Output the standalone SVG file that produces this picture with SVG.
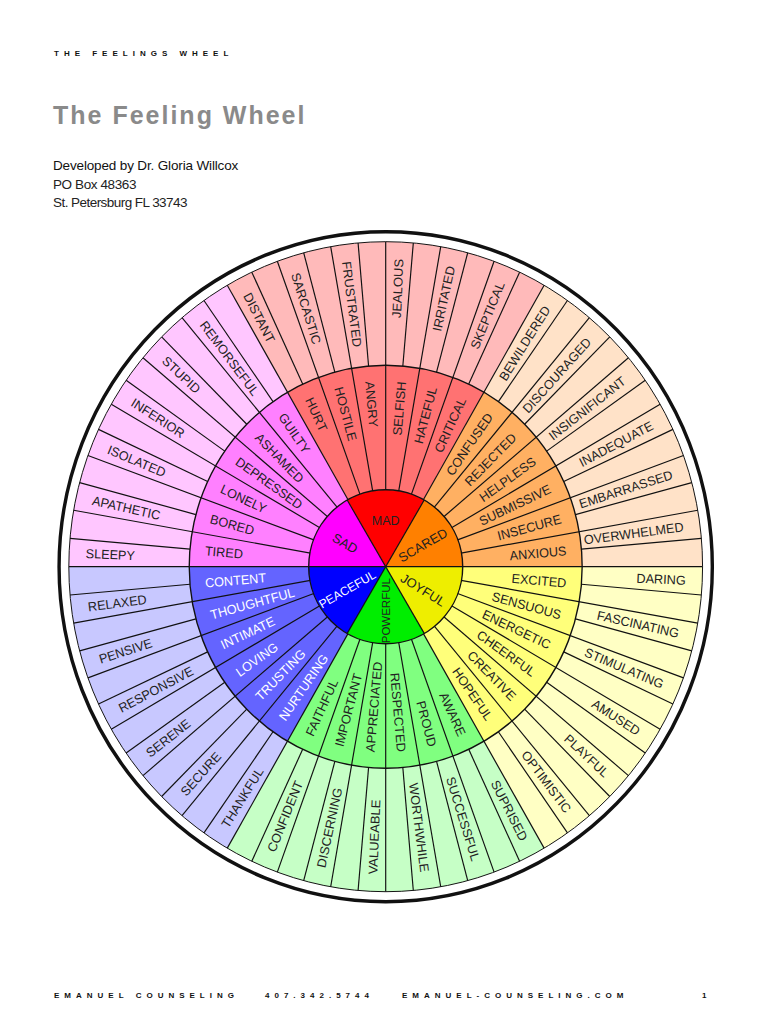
<svg xmlns="http://www.w3.org/2000/svg" xmlns:xlink="http://www.w3.org/1999/xlink" width="770" height="1024" viewBox="0 0 770 1024">
<style>
text{font-family:"Liberation Sans",Arial,sans-serif}
.hd{font-size:8px;font-weight:bold;letter-spacing:5px;fill:#111}
.lb{font-size:13px;fill:#222}
.w{fill:#fff}
.r{text-anchor:end}
.c{font-size:12.5px;fill:#222;text-anchor:middle}
.ln{stroke:#111;stroke-width:1.2;fill:none}
</style>
<defs>
<line id="a" x1="77" y1="0" x2="325" y2="0"/>
<line id="b" x1="201.5" y1="0" x2="325" y2="0"/>
</defs>
<rect width="770" height="1024" fill="#fff"/>
<text class="hd" x="54" y="56">THE FEELINGS WHEEL</text>
<text x="53" y="124" style="font-size:25px;font-weight:bold;fill:#8a8a8a;letter-spacing:2px">The Feeling Wheel</text>
<text x="53" y="170" style="font-size:13.5px;fill:#111;letter-spacing:-0.15px">Developed by Dr. Gloria Willcox</text>
<text x="53" y="188.5" style="font-size:13.5px;fill:#222;letter-spacing:-0.4px">PO Box 48363</text>
<text x="53" y="207" style="font-size:13.5px;fill:#222;letter-spacing:-0.55px">St. Petersburg FL 33743</text>

<g id="wheel" transform="translate(385.7 566.7)">
<g transform="scale(0.975 1)">
<circle r="335" fill="none" stroke="#111" stroke-width="3.5"/>
<g id="mad">
<path d="M0 0L-162.5 -281.46A325 325 0 0 1 162.5 -281.46Z" fill="#FFBABA"/>
<path d="M0 0L-100.75 -174.5A201.5 201.5 0 0 1 100.75 -174.5Z" fill="#FF7272"/>
<g class="lb" dy="4.7">
<text transform="rotate(62.5)" x="-308" dy="4.7">DISTANT</text>
<text transform="rotate(72.5)" x="-308" dy="4.7">SARCASTIC</text>
<text transform="rotate(82.5)" x="-308" dy="4.7">FRUSTRATED</text>
<text class="r" transform="rotate(-87.5)" x="308" dy="4.7">JEALOUS</text>
<text class="r" transform="rotate(-77.5)" x="308" dy="4.7">IRRITATED</text>
<text class="r" transform="rotate(-67.5)" x="308" dy="4.7">SKEPTICAL</text>
<text transform="rotate(65)" x="-186" dy="4.7">HURT</text>
<text transform="rotate(75)" x="-186" dy="4.7">HOSTILE</text>
<text transform="rotate(85)" x="-186" dy="4.7">ANGRY</text>
<text class="r" transform="rotate(-85)" x="186" dy="4.7">SELFISH</text>
<text class="r" transform="rotate(-75)" x="186" dy="4.7">HATEFUL</text>
<text class="r" transform="rotate(-65)" x="186" dy="4.7">CRITICAL</text>
</g>
</g>
<g id="scared">
<path d="M0 0L162.5 -281.46A325 325 0 0 1 325 0Z" fill="#FFE2C8"/>
<path d="M0 0L100.75 -174.5A201.5 201.5 0 0 1 201.5 0Z" fill="#FFB062"/>
<g class="lb">
<text class="r" transform="rotate(-57.5)" x="308" dy="4.7">BEWILDERED</text>
<text class="r" transform="rotate(-47.5)" x="308" dy="4.7">DISCOURAGED</text>
<text class="r" transform="rotate(-37.5)" x="308" dy="4.7">INSIGNIFICANT</text>
<text class="r" transform="rotate(-27.5)" x="308" dy="4.7">INADEQUATE</text>
<text class="r" transform="rotate(-17.5)" x="308" dy="4.7">EMBARRASSED</text>
<text class="r" transform="rotate(-7.5)" x="308" dy="4.7">OVERWHELMED</text>
<text class="r" transform="rotate(-55)" x="186" dy="4.7">CONFUSED</text>
<text class="r" transform="rotate(-45)" x="186" dy="4.7">REJECTED</text>
<text class="r" transform="rotate(-35)" x="186" dy="4.7">HELPLESS</text>
<text class="r" transform="rotate(-25)" x="186" dy="4.7">SUBMISSIVE</text>
<text class="r" transform="rotate(-15)" x="186" dy="4.7">INSECURE</text>
<text class="r" transform="rotate(-5)" x="186" dy="4.7">ANXIOUS</text>
</g>
</g>
<g id="joyful">
<path d="M0 0L325 0A325 325 0 0 1 162.5 281.46Z" fill="#FFFFC4"/>
<path d="M0 0L201.5 0A201.5 201.5 0 0 1 100.75 174.5Z" fill="#FFFF7A"/>
<g class="lb">
<text class="r" transform="rotate(2.5)" x="308" dy="4.7">DARING</text>
<text class="r" transform="rotate(12.5)" x="308" dy="4.7">FASCINATING</text>
<text class="r" transform="rotate(22.5)" x="308" dy="4.7">STIMULATING</text>
<text class="r" transform="rotate(32.5)" x="308" dy="4.7">AMUSED</text>
<text class="r" transform="rotate(42.5)" x="308" dy="4.7">PLAYFUL</text>
<text class="r" transform="rotate(52.5)" x="308" dy="4.7">OPTIMISTIC</text>
<text class="r" transform="rotate(5)" x="186" dy="4.7">EXCITED</text>
<text class="r" transform="rotate(15)" x="186" dy="4.7">SENSUOUS</text>
<text class="r" transform="rotate(25)" x="186" dy="4.7">ENERGETIC</text>
<text class="r" transform="rotate(35)" x="186" dy="4.7">CHEERFUL</text>
<text class="r" transform="rotate(45)" x="186" dy="4.7">CREATIVE</text>
<text class="r" transform="rotate(55)" x="186" dy="4.7">HOPEFUL</text>
</g>
</g>
<g id="powerful">
<path d="M0 0L162.5 281.46A325 325 0 0 1 -162.5 281.46Z" fill="#C6FFC6"/>
<path d="M0 0L100.75 174.5A201.5 201.5 0 0 1 -100.75 174.5Z" fill="#80FF80"/>
<g class="lb">
<text class="r" transform="rotate(62.5)" x="308" dy="4.7">SUPRISED</text>
<text class="r" transform="rotate(72.5)" x="308" dy="4.7">SUCCESSFUL</text>
<text class="r" transform="rotate(82.5)" x="308" dy="4.7">WORTHWHILE</text>
<text transform="rotate(-87.5)" x="-308" dy="4.7">VALUEABLE</text>
<text transform="rotate(-77.5)" x="-308" dy="4.7">DISCERNING</text>
<text transform="rotate(-67.5)" x="-308" dy="4.7">CONFIDENT</text>
<text class="r" transform="rotate(65)" x="186" dy="4.7">AWARE</text>
<text class="r" transform="rotate(75)" x="186" dy="4.7">PROUD</text>
<text class="r" transform="rotate(85)" x="186" dy="4.7">RESPECTED</text>
<text transform="rotate(-85)" x="-186" dy="4.7">APPRECIATED</text>
<text transform="rotate(-75)" x="-186" dy="4.7">IMPORTANT</text>
<text transform="rotate(-65)" x="-186" dy="4.7">FAITHFUL</text>
</g>
</g>
<g id="peaceful">
<path d="M0 0L-162.5 281.46A325 325 0 0 1 -325 0Z" fill="#C8C8FF"/>
<path d="M0 0L-100.75 174.5A201.5 201.5 0 0 1 -201.5 0Z" fill="#6464FF"/>
<g class="lb">
<text transform="rotate(-57.5)" x="-308" dy="4.7">THANKFUL</text>
<text transform="rotate(-47.5)" x="-308" dy="4.7">SECURE</text>
<text transform="rotate(-37.5)" x="-308" dy="4.7">SERENE</text>
<text transform="rotate(-27.5)" x="-308" dy="4.7">RESPONSIVE</text>
<text transform="rotate(-17.5)" x="-308" dy="4.7">PENSIVE</text>
<text transform="rotate(-7.5)" x="-308" dy="4.7">RELAXED</text>
<text class="w" transform="rotate(-55)" x="-186" dy="4.7">NURTURING</text>
<text class="w" transform="rotate(-45)" x="-186" dy="4.7">TRUSTING</text>
<text class="w" transform="rotate(-35)" x="-186" dy="4.7">LOVING</text>
<text class="w" transform="rotate(-25)" x="-186" dy="4.7">INTIMATE</text>
<text class="w" transform="rotate(-15)" x="-186" dy="4.7">THOUGHTFUL</text>
<text class="w" transform="rotate(-5)" x="-186" dy="4.7">CONTENT</text>
</g>
</g>
<g id="sad">
<path d="M0 0L-325 0A325 325 0 0 1 -162.5 -281.46Z" fill="#FFC6FF"/>
<path d="M0 0L-201.5 0A201.5 201.5 0 0 1 -100.75 -174.5Z" fill="#FF80FF"/>
<g class="lb">
<text transform="rotate(2.5)" x="-308" dy="4.7">SLEEPY</text>
<text transform="rotate(12.5)" x="-308" dy="4.7">APATHETIC</text>
<text transform="rotate(22.5)" x="-308" dy="4.7">ISOLATED</text>
<text transform="rotate(32.5)" x="-308" dy="4.7">INFERIOR</text>
<text transform="rotate(42.5)" x="-308" dy="4.7">STUPID</text>
<text transform="rotate(52.5)" x="-308" dy="4.7">REMORSEFUL</text>
<text transform="rotate(5)" x="-186" dy="4.7">TIRED</text>
<text transform="rotate(15)" x="-186" dy="4.7">BORED</text>
<text transform="rotate(25)" x="-186" dy="4.7">LONELY</text>
<text transform="rotate(35)" x="-186" dy="4.7">DEPRESSED</text>
<text transform="rotate(45)" x="-186" dy="4.7">ASHAMED</text>
<text transform="rotate(55)" x="-186" dy="4.7">GUILTY</text>
</g>
</g>
<g id="dividers" class="ln">
<circle r="325" stroke-width="1"/>
<circle r="201.5" stroke-width="1.4"/>
<use xlink:href="#a"/><use xlink:href="#a" transform="rotate(10)"/><use xlink:href="#a" transform="rotate(20)"/><use xlink:href="#a" transform="rotate(30)"/><use xlink:href="#a" transform="rotate(40)"/><use xlink:href="#a" transform="rotate(50)"/><use xlink:href="#a" transform="rotate(60)"/><use xlink:href="#a" transform="rotate(70)"/><use xlink:href="#a" transform="rotate(80)"/><use xlink:href="#a" transform="rotate(90)"/><use xlink:href="#a" transform="rotate(100)"/><use xlink:href="#a" transform="rotate(110)"/><use xlink:href="#a" transform="rotate(120)"/><use xlink:href="#a" transform="rotate(130)"/><use xlink:href="#a" transform="rotate(140)"/><use xlink:href="#a" transform="rotate(150)"/><use xlink:href="#a" transform="rotate(160)"/><use xlink:href="#a" transform="rotate(170)"/><use xlink:href="#a" transform="rotate(180)"/><use xlink:href="#a" transform="rotate(190)"/><use xlink:href="#a" transform="rotate(200)"/><use xlink:href="#a" transform="rotate(210)"/><use xlink:href="#a" transform="rotate(220)"/><use xlink:href="#a" transform="rotate(230)"/><use xlink:href="#a" transform="rotate(240)"/><use xlink:href="#a" transform="rotate(250)"/><use xlink:href="#a" transform="rotate(260)"/><use xlink:href="#a" transform="rotate(270)"/><use xlink:href="#a" transform="rotate(280)"/><use xlink:href="#a" transform="rotate(290)"/><use xlink:href="#a" transform="rotate(300)"/><use xlink:href="#a" transform="rotate(310)"/><use xlink:href="#a" transform="rotate(320)"/><use xlink:href="#a" transform="rotate(330)"/><use xlink:href="#a" transform="rotate(340)"/><use xlink:href="#a" transform="rotate(350)"/>
<use xlink:href="#b" transform="rotate(5)"/><use xlink:href="#b" transform="rotate(15)"/><use xlink:href="#b" transform="rotate(25)"/><use xlink:href="#b" transform="rotate(35)"/><use xlink:href="#b" transform="rotate(45)"/><use xlink:href="#b" transform="rotate(55)"/><use xlink:href="#b" transform="rotate(65)"/><use xlink:href="#b" transform="rotate(75)"/><use xlink:href="#b" transform="rotate(85)"/><use xlink:href="#b" transform="rotate(95)"/><use xlink:href="#b" transform="rotate(105)"/><use xlink:href="#b" transform="rotate(115)"/><use xlink:href="#b" transform="rotate(125)"/><use xlink:href="#b" transform="rotate(135)"/><use xlink:href="#b" transform="rotate(145)"/><use xlink:href="#b" transform="rotate(155)"/><use xlink:href="#b" transform="rotate(165)"/><use xlink:href="#b" transform="rotate(175)"/><use xlink:href="#b" transform="rotate(185)"/><use xlink:href="#b" transform="rotate(195)"/><use xlink:href="#b" transform="rotate(205)"/><use xlink:href="#b" transform="rotate(215)"/><use xlink:href="#b" transform="rotate(225)"/><use xlink:href="#b" transform="rotate(235)"/><use xlink:href="#b" transform="rotate(245)"/><use xlink:href="#b" transform="rotate(255)"/><use xlink:href="#b" transform="rotate(265)"/><use xlink:href="#b" transform="rotate(275)"/><use xlink:href="#b" transform="rotate(285)"/><use xlink:href="#b" transform="rotate(295)"/><use xlink:href="#b" transform="rotate(305)"/><use xlink:href="#b" transform="rotate(315)"/><use xlink:href="#b" transform="rotate(325)"/><use xlink:href="#b" transform="rotate(335)"/><use xlink:href="#b" transform="rotate(345)"/><use xlink:href="#b" transform="rotate(355)"/>
</g>
</g>
<g id="core">
<path d="M0 0L-38.5 -66.68A77 77 0 0 1 38.5 -66.68Z" fill="#FF0000"/>
<path d="M0 0L38.5 -66.68A77 77 0 0 1 77 0Z" fill="#FF8000"/>
<path d="M0 0L77 0A77 77 0 0 1 38.5 66.68Z" fill="#EEEE00"/>
<path d="M0 0L38.5 66.68A77 77 0 0 1 -38.5 66.68Z" fill="#00EE00"/>
<path d="M0 0L-38.5 66.68A77 77 0 0 1 -77 0Z" fill="#0000FF"/>
<path d="M0 0L-77 0A77 77 0 0 1 -38.5 -66.68Z" fill="#FF00FF"/>
<g class="ln">
<circle r="77" stroke-width="1.4"/>
<line x1="-77" y1="0" x2="77" y2="0"/>
<line x1="-38.5" y1="-66.68" x2="38.5" y2="66.68"/>
<line x1="38.5" y1="-66.68" x2="-38.5" y2="66.68"/>
</g>
<text class="c" x="0" y="-41.5">MAD</text>
<text class="c" transform="rotate(-30) translate(43 0)" dy="4.5" style="font-size:13px">SCARED</text>
<text class="c" transform="rotate(32) translate(44 0)" dy="4.5" style="font-size:13px">JOYFUL</text>
<text class="c" transform="translate(0 44) rotate(-90)" dy="4.2" style="font-size:11.5px">POWERFUL</text>
<text class="c" transform="translate(-38.5 22.5) rotate(-30)" dy="4.3" style="font-size:12px;fill:#fff">PEACEFUL</text>
<text class="c" transform="translate(-40.5 -23.4) rotate(30)" dy="4.6" style="font-size:13px">SAD</text>
</g>
</g>

<text class="hd" x="54" y="998">EMANUEL COUNSELING</text>
<text class="hd" x="265" y="998">407.342.5744</text>
<text class="hd" x="402" y="998">EMANUEL-COUNSELING.COM</text>
<text class="hd" x="702" y="998">1</text>
</svg>
